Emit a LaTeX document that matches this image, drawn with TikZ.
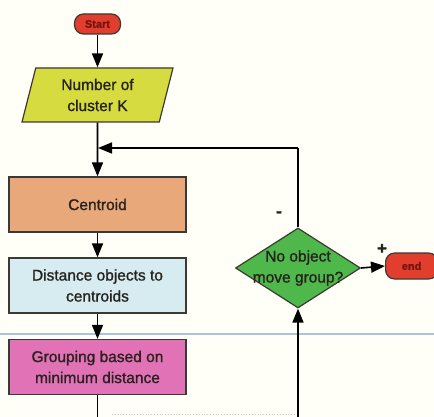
\documentclass[tikz,border=0pt]{standalone}
\usepackage{fontspec}
\setmainfont{Liberation Sans}[FakeBold=1.2]
\usetikzlibrary{shapes.geometric,arrows.meta}

\definecolor{inkc}{RGB}{40,34,30}
\definecolor{edgec}{RGB}{60,56,52}
\definecolor{pillred}{RGB}{226,62,46}
\definecolor{pilltext}{RGB}{120,20,16}
\definecolor{inputyel}{RGB}{214,220,64}
\definecolor{centorange}{RGB}{232,168,122}
\definecolor{distblue}{RGB}{214,236,240}
\definecolor{grouppink}{RGB}{226,114,182}
\definecolor{decgreen}{RGB}{78,184,74}
\definecolor{ruleblue}{RGB}{170,196,220}

\tikzset{
  every node/.style={font=\fontsize{15.5}{21}\selectfont, text=inkc, align=center},
  pill/.style={draw=edgec, line width=1.2pt, fill=pillred, rounded corners=9pt,
    font=\bfseries\fontsize{11}{12}\selectfont, text=pilltext, inner sep=0pt},
  procbox/.style={draw=edgec, line width=1.2pt, minimum width=177pt, minimum height=55pt, inner sep=0pt},
  iobox/.style={draw=edgec, line width=1.2pt, fill=inputyel, trapezium,
    trapezium left angle=67, trapezium right angle=113, trapezium stretches body,
    minimum width=151pt, minimum height=54pt, inner sep=0pt},
  decbox/.style={draw=edgec, line width=1.2pt, fill=decgreen, diamond,
    minimum width=125pt, minimum height=80pt, inner sep=0pt},
  flow/.style={draw=black, line width=1.6pt, -{Triangle[width=11pt,length=14pt]}},
  plainline/.style={draw=black, line width=1.6pt},
  signmark/.style={font=\bfseries\fontsize{17}{17}\selectfont, text=inkc}
}

\begin{document}
\begin{tikzpicture}[x=1pt, y=-1pt]
  \useasboundingbox (0,0) rectangle (434,417);
  \fill[white!97!yellow] (0,0) rectangle (434,417);

  % ruled line of the page behind the chart
  \draw[ruleblue, line width=1.3pt] (0,334) -- (434,334);
  \draw[gray!40, line width=0.8pt, dotted] (112,414) -- (296,414);

  % nodes of the flow chart
  \node[pill, minimum width=46pt, minimum height=20pt] (start) at (97.5,24) {Start};
  \node[iobox] (k) at (97.5,95) {Number of\\cluster K};
  \node[procbox, fill=centorange] (cen) at (97.5,204.5) {Centroid};
  \node[procbox, fill=distblue] (dist) at (97.5,285.5) {Distance objects to\\centroids};
  \node[procbox, fill=grouppink] (grp) at (97.5,367) {Grouping based on\\minimum distance};
  \node[decbox] (dia) at (298,268) {};
  \node (diatext) at (dia.center) {No object\\move group?};
  \node[pill, minimum width=52pt, minimum height=26pt, anchor=west] (fin) at (385,266) {end};

  % signs on the two exits of the decision
  \node[signmark] (minus) at (279,214) {-};
  \node[signmark] (plus) at (382,249) {+};

  % helper points for the loop
  \coordinate (join) at (k.south |- 0,148);
  \coordinate (turn) at (dia.north |- 0,148);
  \coordinate (grpout) at (grp.south |- 0,417);
  \coordinate (diain) at (dia.south |- 0,417);

  % connectors
  \draw[flow] (start) -- (k);
  \draw[flow] (k.south) -- (cen.north);
  \draw[flow] (cen) -- (dist);
  \draw[flow] (dist) -- (grp);
  \draw[plainline] (dia.north) -- (turn);
  \draw[flow, shorten >=0.5pt] (turn) -- (join);
  \draw[flow] (dia.east) -- (fin.west);
  \draw[plainline] (grp.south) -- (grpout);
  \draw[flow] (diain) -- (dia.south);
\end{tikzpicture}
\end{document}
